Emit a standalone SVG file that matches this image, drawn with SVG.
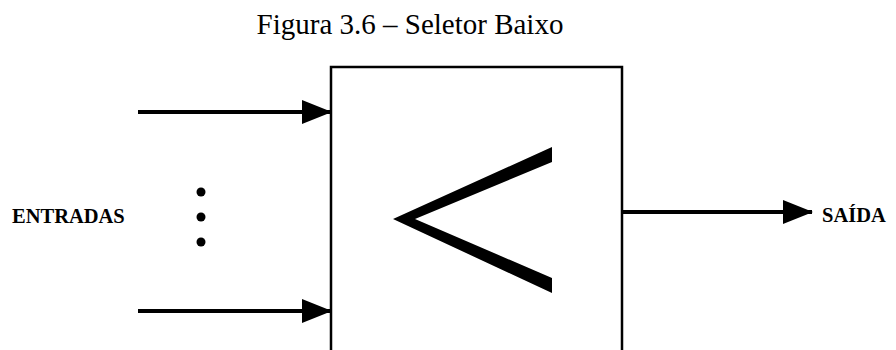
<svg xmlns="http://www.w3.org/2000/svg" width="896" height="350" viewBox="0 0 896 350">
<style>
.title{font-family:"Liberation Serif",serif;font-size:29px;fill:#000}
.lbl{font-family:"Liberation Serif",serif;font-size:20.5px;font-weight:bold;fill:#000}
.conn{stroke:#000;stroke-width:4;fill:none}
</style>
<defs>
<marker id="arr" markerUnits="userSpaceOnUse" markerWidth="30" markerHeight="24" refX="29" refY="12" orient="auto" viewBox="0 0 30 24">
<path d="M0,0 L30,12 L0,24 Z" fill="#000"/>
</marker>
</defs>
<rect width="896" height="350" fill="#fff"/>
<text class="title" x="410" y="34" text-anchor="middle">Figura 3.6 – Seletor Baixo</text>
<g id="selector">
<path d="M331,360 L331,67 L622,67 L622,360" fill="none" stroke="#000" stroke-width="2.5"/>
<polygon points="552,147 393,219 552,293 552,278 415,219 552,162" fill="#000"/>
</g>
<g id="entradas">
<text class="lbl" x="12" y="223">ENTRADAS</text>
<circle cx="201" cy="192" r="4.5" fill="#000"/>
<circle cx="201" cy="217" r="4.5" fill="#000"/>
<circle cx="201" cy="242" r="4.5" fill="#000"/>
</g>
<g id="saida">
<text class="lbl" x="822" y="222">SAÍDA</text>
</g>
<g id="connectors">
<line class="conn" x1="138" y1="112" x2="331" y2="112" marker-end="url(#arr)"/>
<line class="conn" x1="138" y1="311" x2="331" y2="311" marker-end="url(#arr)"/>
<line class="conn" x1="622" y1="212" x2="812" y2="212" stroke-width="3" marker-end="url(#arr)"/>
</g>
</svg>
